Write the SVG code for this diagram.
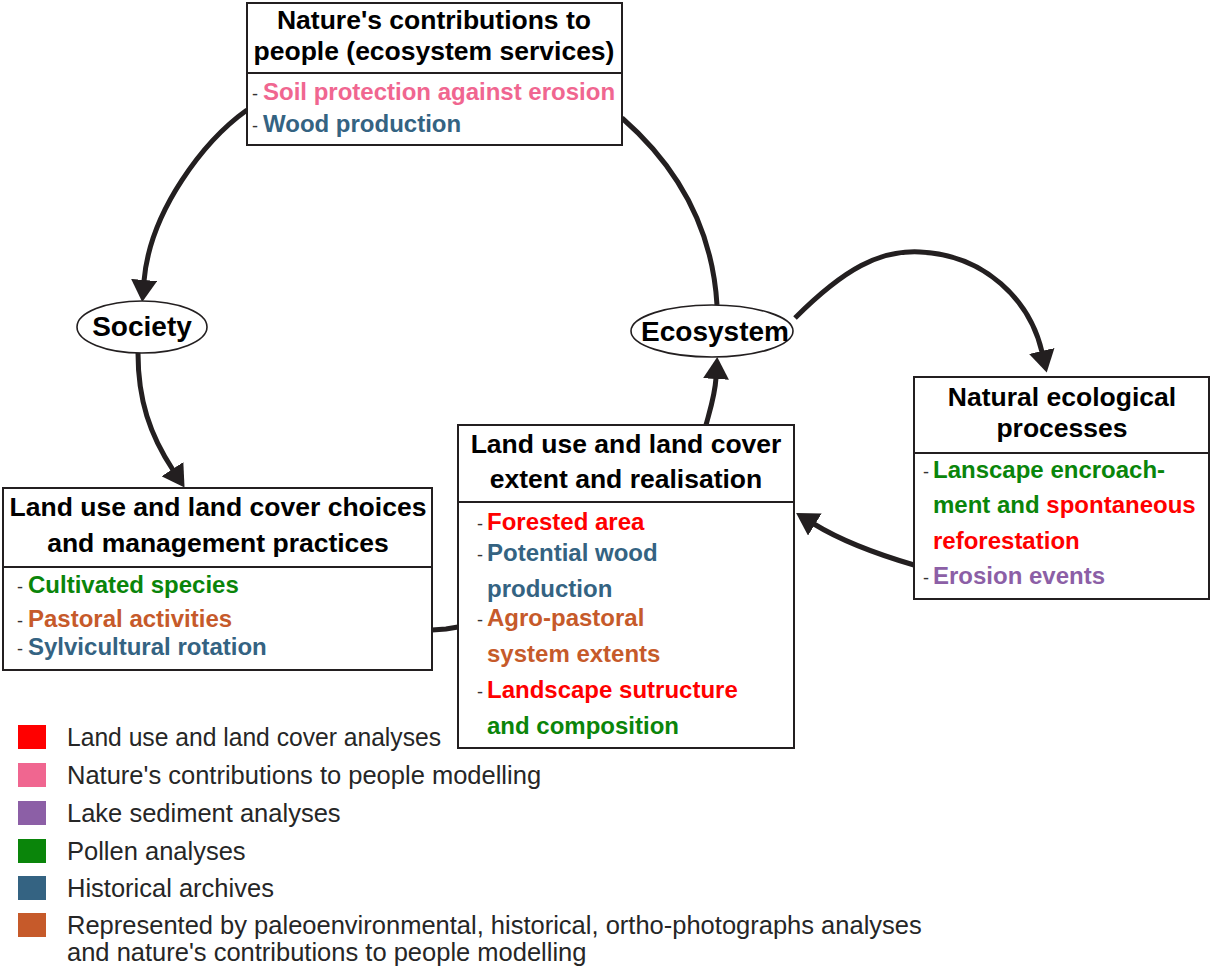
<svg xmlns="http://www.w3.org/2000/svg" width="1212" height="966" viewBox="0 0 1212 966">
<style>
.bg{fill:#fff}
.box{fill:#fff;stroke:#231f20;stroke-width:2}
.div{stroke:#231f20;stroke-width:2}
.ell{fill:#fff;stroke:#231f20;stroke-width:1.6}
.title{font-family:"Liberation Sans",Arial,sans-serif;font-weight:bold;font-size:26.5px;fill:#000;text-anchor:middle}
.elab{font-family:"Liberation Sans",Arial,sans-serif;font-weight:bold;font-size:28px;fill:#000;text-anchor:middle}
.item{font-family:"Liberation Sans",Arial,sans-serif;font-weight:bold;font-size:24px}
.dash{font-family:"Liberation Sans",Arial,sans-serif;font-size:18px;fill:#333}
.leg{font-family:"Liberation Sans",Arial,sans-serif;font-size:25.5px;fill:#262626}
.conn{fill:none;stroke:#231f20;stroke-width:5}
.arr{marker-end:url(#ah)}
.red{fill:#ff0000}
.pink{fill:#f06690}
.purple{fill:#8c5fa6}
.green{fill:#0a850a}
.blue{fill:#346382}
.orange{fill:#c65a2a}
</style>
<defs>
<marker id="ah" markerUnits="userSpaceOnUse" markerWidth="22" markerHeight="26" viewBox="0 0 22 26" refX="1" refY="13" orient="auto">
<path d="M0,0 L22,13 L0,26 z" fill="#231f20"/>
</marker>
</defs>
<rect class="bg" x="0" y="0" width="1212" height="966"/>

<g id="connectors">
<path class="conn arr" d="M247,110 C205,140 150,210 144,281"/>
<path class="conn arr" d="M138,353 C138,400 150,435 173,470"/>
<path class="conn" d="M432,630 L446,629 L458,627"/>
<path class="conn arr" d="M706,425 C710,410 715,395 716,378"/>
<path class="conn" d="M622,118 C670,160 712,220 717,305"/>
<path class="conn arr" d="M795,318 C845,268 880,250 920,252 C985,255 1030,300 1042,352"/>
<path class="conn arr" d="M914,565 C880,555 840,540 814,524"/>
</g>

<g id="node-ncp">
<rect class="box" x="247" y="3" width="375" height="142"/>
<line class="div" x1="247" y1="73" x2="622" y2="73"/>
<text class="title" x="434" y="29">Nature's contributions to</text>
<text class="title" x="434" y="60">people (ecosystem services)</text>
<text class="dash" x="252" y="100">-</text>
<text class="item pink" x="263" y="100">Soil protection against erosion</text>
<text class="dash" x="252" y="132">-</text>
<text class="item blue" x="263" y="132">Wood production</text>
</g>

<g id="node-society">
<ellipse class="ell" cx="142" cy="327" rx="65" ry="26"/>
<text class="elab" x="142" y="336">Society</text>
</g>

<g id="node-ecosystem">
<ellipse class="ell" cx="712" cy="331" rx="81" ry="26"/>
<text class="elab" x="715" y="341">Ecosystem</text>
</g>

<g id="node-choices">
<rect class="box" x="3" y="488" width="429" height="182"/>
<line class="div" x1="3" y1="567" x2="432" y2="567"/>
<text class="title" x="218" y="516">Land use and land cover choices</text>
<text class="title" x="218" y="552">and management practices</text>
<text class="dash" x="17" y="593">-</text>
<text class="item green" x="28" y="593">Cultivated species</text>
<text class="dash" x="17" y="627">-</text>
<text class="item orange" x="28" y="627">Pastoral activities</text>
<text class="dash" x="17" y="655">-</text>
<text class="item blue" x="28" y="655">Sylvicultural rotation</text>
</g>

<g id="node-extent">
<rect class="box" x="458" y="425" width="336" height="323"/>
<line class="div" x1="458" y1="502" x2="794" y2="502"/>
<text class="title" x="626" y="453">Land use and land cover</text>
<text class="title" x="626" y="488">extent and realisation</text>
<text class="dash" x="477" y="530">-</text>
<text class="item red" x="487" y="530">Forested area</text>
<text class="dash" x="477" y="561">-</text>
<text class="item blue" x="487" y="561">Potential wood</text>
<text class="item blue" x="487" y="597">production</text>
<text class="dash" x="477" y="626">-</text>
<text class="item orange" x="487" y="626">Agro-pastoral</text>
<text class="item orange" x="487" y="662">system extents</text>
<text class="dash" x="477" y="698">-</text>
<text class="item red" x="487" y="698">Landscape sutructure</text>
<text class="item green" x="487" y="734">and composition</text>
</g>

<g id="node-natural">
<rect class="box" x="914" y="377" width="295" height="222"/>
<line class="div" x1="914" y1="453" x2="1209" y2="453"/>
<text class="title" x="1062" y="406">Natural ecological</text>
<text class="title" x="1062" y="437">processes</text>
<text class="dash" x="923" y="478">-</text>
<text class="item green" x="933" y="478">Lanscape encroach-</text>
<text class="item" x="933" y="513"><tspan class="green">ment and </tspan><tspan class="red">spontaneous</tspan></text>
<text class="item red" x="933" y="549">reforestation</text>
<text class="dash" x="923" y="584">-</text>
<text class="item purple" x="933" y="584">Erosion events</text>
</g>

<g id="legend">
<rect class="red" x="18" y="725" width="28" height="24"/>
<text class="leg" x="67" y="746" textLength="374" lengthAdjust="spacingAndGlyphs">Land use and land cover analyses</text>
<rect class="pink" x="18" y="763" width="28" height="24"/>
<text class="leg" x="67" y="784">Nature's contributions to people modelling</text>
<rect class="purple" x="18" y="801" width="28" height="24"/>
<text class="leg" x="67" y="822">Lake sediment analyses</text>
<rect class="green" x="18" y="839" width="28" height="24"/>
<text class="leg" x="67" y="860">Pollen analyses</text>
<rect class="blue" x="18" y="876" width="28" height="24"/>
<text class="leg" x="67" y="897">Historical archives</text>
<rect class="orange" x="18" y="913" width="28" height="24"/>
<text class="leg" x="67" y="934">Represented by paleoenvironmental, historical, ortho-photographs analyses</text>
<text class="leg" x="67" y="961">and nature's contributions to people modelling</text>
</g>
</svg>
